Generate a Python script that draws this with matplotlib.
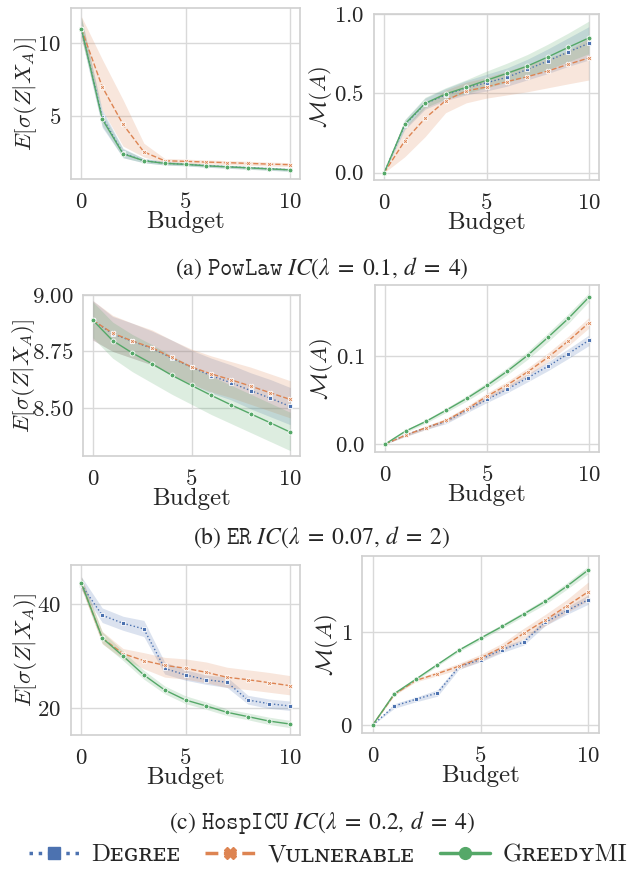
import numpy as np
import matplotlib.pyplot as plt
from matplotlib.lines import Line2D
import seaborn as sns

sns.set_style("whitegrid")
plt.rcParams['font.family'] = ['cmr10', 'DejaVu Serif']
plt.rcParams['mathtext.fontset'] = 'cm'
plt.rcParams['axes.formatter.use_mathtext'] = True
plt.rcParams['axes.unicode_minus'] = False

budget = list(range(11))
methods = ["Dᴇɢʀᴇᴇ", "Vᴜʟɴᴇʀᴀʙʟᴇ", "GʀᴇᴇᴅʏMI"]
captions = [r"(a) $\mathtt{PowLaw}\ IC(\lambda\;=\;0.1,\, d\;=\;4)$",
            r"(b) $\mathtt{ER}\ IC(\lambda\;=\;0.07,\, d\;=\;2)$",
            r"(c) $\mathtt{HospICU}\ IC(\lambda\;=\;0.2,\, d\;=\;4)$"]

# (a) PowLaw, left: expected loss
pow_l_deg = [11.0, 4.9, 2.4, 1.9, 1.72, 1.65, 1.55, 1.48, 1.41, 1.34, 1.27]
pow_l_deg_lo = [10.4, 4.2, 2.1, 1.75, 1.6, 1.55, 1.45, 1.38, 1.31, 1.24, 1.17]
pow_l_deg_hi = [11.8, 5.4, 2.75, 2.05, 1.85, 1.76, 1.66, 1.58, 1.51, 1.44, 1.37]
pow_l_vul = [11.0, 7.0, 4.4, 2.5, 1.89, 1.85, 1.80, 1.76, 1.71, 1.66, 1.62]
pow_l_vul_lo = [10.3, 5.4, 2.9, 2.15, 1.75, 1.72, 1.67, 1.63, 1.58, 1.53, 1.49]
pow_l_vul_hi = [11.85, 8.9, 6.1, 3.1, 2.05, 2.0, 1.95, 1.9, 1.85, 1.8, 1.76]
pow_l_gr = [11.0, 4.77, 2.37, 1.89, 1.71, 1.64, 1.54, 1.47, 1.40, 1.33, 1.26]
pow_l_gr_lo = [10.4, 4.3, 2.1, 1.75, 1.6, 1.53, 1.44, 1.37, 1.30, 1.23, 1.16]
pow_l_gr_hi = [11.8, 5.2, 2.7, 2.05, 1.83, 1.76, 1.65, 1.57, 1.50, 1.43, 1.36]

# (a) PowLaw, right: M(A)
pow_r_deg = [0, 0.30, 0.435, 0.49, 0.535, 0.567, 0.601, 0.651, 0.704, 0.761, 0.815]
pow_r_deg_lo = [0, 0.27, 0.40, 0.455, 0.49, 0.515, 0.545, 0.585, 0.625, 0.67, 0.71]
pow_r_deg_hi = [0, 0.33, 0.47, 0.53, 0.58, 0.62, 0.66, 0.715, 0.78, 0.85, 0.92]
pow_r_vul = [0, 0.20, 0.343, 0.454, 0.515, 0.54, 0.574, 0.605, 0.641, 0.683, 0.723]
pow_r_vul_lo = [0, 0.10, 0.227, 0.378, 0.44, 0.47, 0.49, 0.51, 0.535, 0.56, 0.584]
pow_r_vul_hi = [0, 0.28, 0.43, 0.52, 0.57, 0.60, 0.64, 0.68, 0.72, 0.77, 0.85]
pow_r_gr = [0, 0.305, 0.437, 0.496, 0.538, 0.582, 0.626, 0.672, 0.729, 0.79, 0.849]
pow_r_gr_lo = [0, 0.28, 0.41, 0.465, 0.50, 0.535, 0.57, 0.605, 0.65, 0.70, 0.75]
pow_r_gr_hi = [0, 0.335, 0.475, 0.535, 0.585, 0.64, 0.69, 0.745, 0.81, 0.88, 0.955]

# (b) ER, left
er_l_deg = [8.888, 8.828, 8.795, 8.763, 8.72, 8.68, 8.642, 8.611, 8.576, 8.542, 8.506]
er_l_deg_lo = [8.80, 8.75, 8.72, 8.69, 8.645, 8.605, 8.565, 8.535, 8.495, 8.46, 8.425]
er_l_deg_hi = [8.975, 8.905, 8.875, 8.84, 8.80, 8.755, 8.72, 8.69, 8.655, 8.625, 8.59]
er_l_vul = [8.888, 8.831, 8.796, 8.766, 8.723, 8.681, 8.650, 8.624, 8.596, 8.566, 8.537]
er_l_vul_lo = [8.80, 8.75, 8.72, 8.69, 8.645, 8.605, 8.57, 8.545, 8.515, 8.485, 8.455]
er_l_vul_hi = [8.975, 8.91, 8.875, 8.845, 8.80, 8.76, 8.73, 8.705, 8.68, 8.65, 8.62]
er_l_gr = [8.888, 8.798, 8.743, 8.695, 8.644, 8.599, 8.555, 8.513, 8.473, 8.433, 8.392]
er_l_gr_lo = [8.81, 8.72, 8.66, 8.61, 8.56, 8.515, 8.47, 8.43, 8.39, 8.35, 8.31]
er_l_gr_hi = [8.97, 8.88, 8.825, 8.78, 8.73, 8.685, 8.64, 8.60, 8.56, 8.52, 8.48]

# (b) ER, right
er_r_deg = [0, 0.0102, 0.0186, 0.0258, 0.0386, 0.0508, 0.0625, 0.0754, 0.0886, 0.103, 0.118]
er_r_deg_lo = [0, 0.0087, 0.0166, 0.0233, 0.0356, 0.0473, 0.0585, 0.0709, 0.0836, 0.0975, 0.112]
er_r_deg_hi = [0, 0.0117, 0.0206, 0.0283, 0.0416, 0.0543, 0.0665, 0.0799, 0.0936, 0.1085, 0.124]
er_r_vul = [0, 0.0102, 0.0186, 0.0269, 0.0398, 0.0545, 0.0674, 0.0822, 0.0989, 0.1174, 0.1379]
er_r_vul_lo = [0, 0.0087, 0.0166, 0.0244, 0.0368, 0.051, 0.0634, 0.0777, 0.0939, 0.1119, 0.1319]
er_r_vul_hi = [0, 0.0117, 0.0206, 0.0294, 0.0428, 0.058, 0.0714, 0.0867, 0.1039, 0.1229, 0.1439]
er_r_gr = [0, 0.0148, 0.0258, 0.0386, 0.0519, 0.0667, 0.083, 0.101, 0.1216, 0.143, 0.167]
er_r_gr_lo = [0, 0.0133, 0.0238, 0.0361, 0.0489, 0.0632, 0.079, 0.0965, 0.1166, 0.1375, 0.162]
er_r_gr_hi = [0, 0.0163, 0.0278, 0.0411, 0.0549, 0.0702, 0.087, 0.1055, 0.1266, 0.1485, 0.172]

# (c) HospICU, left
icu_l_deg = [43.7, 37.9, 36.35, 35.26, 27.69, 26.41, 25.51, 25.0, 21.6, 20.9, 20.45]
icu_l_deg_lo = [42.8, 36.5, 35.0, 33.8, 26.6, 25.4, 24.6, 24.0, 20.8, 20.0, 19.6]
icu_l_deg_hi = [45.3, 39.3, 37.7, 36.9, 28.9, 27.4, 26.4, 26.0, 22.5, 21.8, 21.4]
icu_l_vul = [44.0, 33.5, 30.5, 29.17, 28.27, 27.7, 26.92, 25.96, 25.51, 24.94, 24.36]
icu_l_vul_lo = [43.0, 32.4, 29.5, 27.6, 26.0, 25.6, 24.9, 24.0, 23.6, 23.1, 22.6]
icu_l_vul_hi = [45.3, 34.8, 31.5, 30.7, 29.8, 29.5, 28.9, 27.9, 27.4, 26.9, 26.3]
icu_l_gr = [44.04, 33.53, 30.06, 26.41, 23.53, 21.6, 20.45, 19.23, 18.4, 17.56, 16.99]
icu_l_gr_lo = [43.1, 32.5, 29.2, 25.6, 22.8, 20.9, 19.8, 18.6, 17.8, 16.9, 16.3]
icu_l_gr_hi = [45.2, 34.7, 31.0, 27.3, 24.3, 22.4, 21.2, 19.9, 19.1, 18.3, 17.7]

# (c) HospICU, right
icu_r_deg = [0, 0.205, 0.277, 0.345, 0.626, 0.705, 0.813, 0.892, 1.104, 1.23, 1.349]
icu_r_deg_lo = [0, 0.18, 0.25, 0.31, 0.60, 0.68, 0.78, 0.86, 1.07, 1.19, 1.30]
icu_r_deg_hi = [0, 0.23, 0.30, 0.38, 0.655, 0.735, 0.845, 0.925, 1.14, 1.27, 1.40]
icu_r_vul = [0, 0.33, 0.48, 0.554, 0.633, 0.723, 0.835, 0.986, 1.129, 1.281, 1.435]
icu_r_vul_lo = [0, 0.32, 0.465, 0.53, 0.60, 0.69, 0.79, 0.93, 1.07, 1.21, 1.34]
icu_r_vul_hi = [0, 0.345, 0.495, 0.58, 0.665, 0.76, 0.88, 1.04, 1.19, 1.35, 1.54]
icu_r_gr = [0, 0.338, 0.493, 0.651, 0.806, 0.935, 1.061, 1.194, 1.331, 1.493, 1.669]
icu_r_gr_lo = [0, 0.325, 0.478, 0.635, 0.79, 0.915, 1.04, 1.17, 1.30, 1.46, 1.63]
icu_r_gr_hi = [0, 0.35, 0.508, 0.667, 0.822, 0.955, 1.085, 1.22, 1.36, 1.53, 1.71]

colors = ['#4C72B0', '#DD8452', '#55A868']
styles = [':', '--', '-']
markers = ['s', 'X', 'o']

W, H = 632, 869
fig = plt.figure(figsize=(W / 100, H / 100), dpi=100)


def add_ax(l, t, r, b):
    return fig.add_axes([l / W, 1 - b / H, (r - l) / W, (b - t) / H])


def draw(ax, series, ylim, yticks, ylabel, ylab_x):
    for (m, lo, hi), c, ls, mk in zip(series, colors, styles, markers):
        ax.fill_between(budget, lo, hi, color=c, alpha=0.2, linewidth=0)
        ax.plot(budget, m, color=c, ls=ls, lw=1.0, marker=mk, ms=3.5,
                mec='white', mew=0.6)
    ax.set_xlim(-0.5, 10.5)
    ax.set_xticks([0, 5, 10])
    ax.set_ylim(*ylim)
    ax.set_yticks(yticks)
    ax.tick_params(labelsize=16.5, pad=3.5, colors='#262626')
    ax.tick_params(axis='x', pad=6)
    ax.set_xlabel('Budget', fontsize=18, labelpad=-1, color='#262626')
    ax.set_ylabel(ylabel, fontsize=16.5, va='center', color='#262626')
    ax.yaxis.set_label_coords(ylab_x, 0.5)
    ax.grid(True, color='#d9d9d9', lw=1.0)
    for s in ax.spines.values():
        s.set_color('#d0d0d0')
        s.set_linewidth(1.2)


loss_label = r'$E[\sigma(Z|X_A)]$'
m_label = r'$\mathcal{M}(A)$'

ax = add_ax(71, 8, 300, 179)
draw(ax, [(pow_l_deg, pow_l_deg_lo, pow_l_deg_hi),
          (pow_l_vul, pow_l_vul_lo, pow_l_vul_hi),
          (pow_l_gr, pow_l_gr_lo, pow_l_gr_hi)],
     (0.63, 12.44), [5, 10], loss_label, -0.2)

ax = add_ax(374, 14, 599, 180)
draw(ax, [(pow_r_deg, pow_r_deg_lo, pow_r_deg_hi),
          (pow_r_vul, pow_r_vul_lo, pow_r_vul_hi),
          (pow_r_gr, pow_r_gr_lo, pow_r_gr_hi)],
     (-0.046, 1.0), [0, 0.5, 1.0], m_label, -0.24)

ax = add_ax(83, 295, 300, 456)
draw(ax, [(er_l_deg, er_l_deg_lo, er_l_deg_hi),
          (er_l_vul, er_l_vul_lo, er_l_vul_hi),
          (er_l_gr, er_l_gr_lo, er_l_gr_hi)],
     (8.286, 9.0), [8.5, 8.75, 9.0], loss_label, -0.275)

ax = add_ax(375, 285, 599, 452)
draw(ax, [(er_r_deg, er_r_deg_lo, er_r_deg_hi),
          (er_r_vul, er_r_vul_lo, er_r_vul_hi),
          (er_r_gr, er_r_gr_lo, er_r_gr_hi)],
     (-0.009, 0.181), [0.0, 0.1], m_label, -0.24)

ax = add_ax(71, 565, 300, 735)
draw(ax, [(icu_l_deg, icu_l_deg_lo, icu_l_deg_hi),
          (icu_l_vul, icu_l_vul_lo, icu_l_vul_hi),
          (icu_l_gr, icu_l_gr_lo, icu_l_gr_hi)],
     (14.87, 47.56), [20, 40], loss_label, -0.2)

ax = add_ax(362, 556, 599, 733)
draw(ax, [(icu_r_deg, icu_r_deg_lo, icu_r_deg_hi),
          (icu_r_vul, icu_r_vul_lo, icu_r_vul_hi),
          (icu_r_gr, icu_r_gr_lo, icu_r_gr_hi)],
     (-0.086, 1.82), [0, 1], m_label, -0.15)

# captions
for cap, y in zip(captions, [268, 537, 822]):
    fig.text(322 / W, 1 - y / H, cap, ha='center', va='center', fontsize=17,
             family='STIXGeneral', math_fontfamily='stix')

handles = [Line2D([], [], color=c, ls=ls, lw=2.5, marker=mk, ms=8.5, mec=c)
           for c, ls, mk in zip(colors, styles, markers)]
fig.legend(handles, methods, loc='center', bbox_to_anchor=(328 / W, 1 - 855 / H),
           ncol=3, frameon=False, fontsize=18, handlelength=2.0,
           columnspacing=1.0, handletextpad=0.5, borderaxespad=0, borderpad=0)

fig.savefig('out.png', dpi=100)
